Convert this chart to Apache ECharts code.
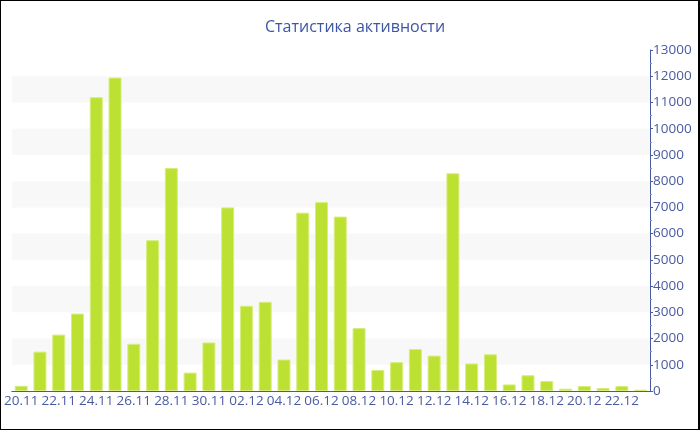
<!DOCTYPE html>
<html>
<head>
<meta charset="utf-8">
<script src="https://cdn.jsdelivr.net/npm/echarts@6/dist/echarts.min.js"></script>
<style>
html,body{margin:0;padding:0;background:#fff;}
#wrap{position:absolute;left:0;top:0;width:697px;height:428px;border-top:1px solid #000;border-left:1px solid #000;border-bottom:1px solid #000;border-right:2px solid #000;}
#chart{width:697px;height:428px;}
</style>
</head>
<body>
<div id="wrap"><div id="chart"></div></div>
<script>
const titleText = "Статистика активности";
const categories = ["20.11","21.11","22.11","23.11","24.11","25.11","26.11","27.11","28.11","29.11","30.11",
  "01.12","02.12","03.12","04.12","05.12","06.12","07.12","08.12","09.12","10.12","11.12","12.12","13.12",
  "14.12","15.12","16.12","17.12","18.12","19.12","20.12","21.12","22.12","23.12"];
const values = [200,1500,2150,2950,11200,11950,1800,5750,8500,700,1850,
  7000,3250,3400,1200,6800,7200,6650,2400,800,1100,1600,1350,8300,
  1050,1400,250,600,380,90,190,110,190,50];
const yMin = 0, yMax = 13000, yStep = 1000;

const textColor = '#4a5aa0';
const fontFam = '"Open Sans", "DejaVu Sans", sans-serif';
const chart = echarts.init(document.getElementById('chart'), null, {renderer:'canvas'});
chart.setOption({
  animation:false,
  title:{text:titleText,left:259,top:13,textStyle:{color:'#3d55a3',fontSize:16,fontWeight:'normal',fontFamily:fontFam}},
  grid:{left:9,right:48,top:49,bottom:38,containLabel:false},
  xAxis:{type:'category',data:categories,
    axisLine:{lineStyle:{color:'#4a5aa0',width:1}},
    axisTick:{alignWithLabel:true,interval:1,length:3,lineStyle:{color:'#4a5aa0'}},
    axisLabel:{interval:1,color:textColor,fontSize:13.5,fontFamily:fontFam,margin:3},
    splitLine:{show:false}
  },
  yAxis:{type:'value',position:'right',min:yMin,max:yMax,interval:yStep,
    axisLine:{show:true,lineStyle:{color:'#4a5aa0',width:1}},
    axisTick:{show:true,length:3,lineStyle:{color:'#4a5aa0'}},
    minorTick:{show:true,splitNumber:2,length:2,lineStyle:{color:'#8890b8'}},
    axisLabel:{color:textColor,fontSize:13.5,fontFamily:fontFam,margin:3,formatter:function(v){return String(v);}},
    splitLine:{show:false},
    splitArea:{show:true,areaStyle:{color:['rgba(255,255,255,0)','#f8f8f8']}}
  },
  series:[{type:'bar',data:values,barWidth:13,
    itemStyle:{color:'#bce132',borderColor:'#d6ee7e',borderWidth:1}}]
});
</script>
</body>
</html>
